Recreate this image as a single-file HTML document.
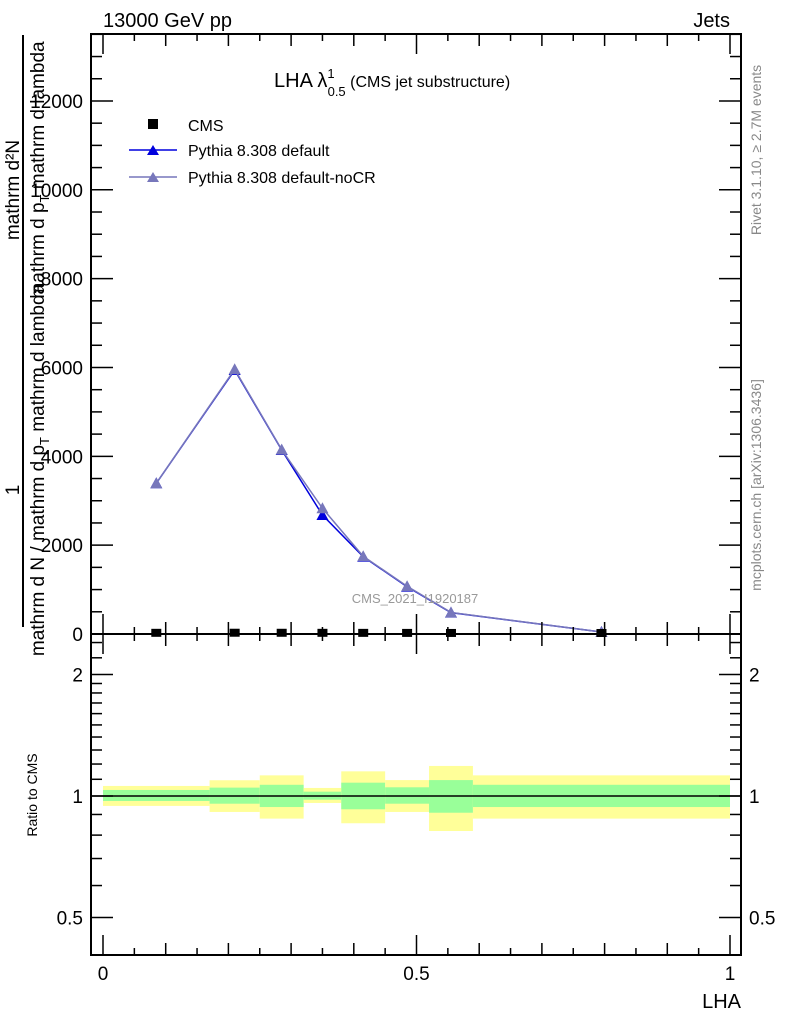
<!DOCTYPE html>
<html><head><meta charset="utf-8"><style>
body{margin:0;background:#fff}
svg{display:block;font-family:"Liberation Sans",sans-serif}
</style></head><body>
<svg id="c" width="786" height="1024" viewBox="0 0 786 1024" xmlns="http://www.w3.org/2000/svg">
<g id="bands"></g>
<g id="marks"></g>
<g id="axes" stroke="#000" fill="none" stroke-width="2"></g>
<g id="txt" font-size="19"></g>
<text x="103" y="27" font-size="20">13000 GeV pp</text>
<text x="730" y="27" font-size="20" text-anchor="end">Jets</text>
<text x="274" y="87" font-size="20">LHA λ<tspan font-size="13" dy="-9">1</tspan><tspan font-size="13" dx="-7" dy="18">0.5</tspan><tspan font-size="16" dy="-9"> (CMS jet substructure)</tspan></text>
<text x="415" y="603" font-size="13" fill="#999" text-anchor="middle">CMS_2021_I1920187</text>
<text transform="translate(761,150) rotate(-90)" font-size="14" fill="#888" text-anchor="middle">Rivet 3.1.10, ≥ 2.7M events</text>
<text transform="translate(761,485) rotate(-90)" font-size="14" fill="#888" text-anchor="middle">mcplots.cern.ch [arXiv:1306.3436]</text>
<g>
<rect x="148" y="119" width="10" height="10" fill="#000"/>
<text x="188" y="131" font-size="16">CMS</text>
<line x1="129" y1="150" x2="177" y2="150" stroke="#0000dd" stroke-width="1.5"/>
<path d="M147,155 L153,145 L159,155 Z" fill="#0000dd"/>
<text x="188" y="156" font-size="16">Pythia 8.308 default</text>
<line x1="129" y1="177" x2="177" y2="177" stroke="#7777bb" stroke-width="1.5"/>
<path d="M147,182 L153,172 L159,182 Z" fill="#7777bb"/>
<text x="188" y="183" font-size="16">Pythia 8.308 default-noCR</text>
</g>
<g font-size="19">
<line x1="23" y1="35" x2="23" y2="627" stroke="#000" stroke-width="2"/>
<text transform="translate(19,190) rotate(-90)" text-anchor="middle">mathrm d²N</text>
<text transform="translate(19,490) rotate(-90)" text-anchor="middle">1</text>
<text transform="translate(44,170) rotate(-90)" text-anchor="middle">mathrm d p<tspan font-size="13" dy="5">T</tspan><tspan dy="-5"> mathrm d lambda</tspan></text>
<text transform="translate(44,470) rotate(-90)" text-anchor="middle">mathrm d N / mathrm d p<tspan font-size="13" dy="5">T</tspan><tspan dy="-5"> mathrm d lambda</tspan></text>
</g>
<text transform="translate(37,795) rotate(-90)" font-size="14" text-anchor="middle">Ratio to CMS</text>
<text x="741" y="1008" font-size="20" text-anchor="end">LHA</text>
</svg>
<script>
const xCenters=[0.085,0.21,0.285,0.35,0.415,0.485,0.555,0.795];
const binEdges=[0,0.17,0.25,0.32,0.38,0.45,0.52,0.59,1.0];
const cmsValues=[4,6,5,4,3,2,1,0.1];
const defaultValues=[3393,5943,4142,2679,1740,1065,480,45];
const noCRValues=[3393,5960,4150,2830,1750,1075,485,45];
const yellowLo=[0.945,0.913,0.879,0.961,0.856,0.913,0.819,0.879];
const yellowHi=[1.059,1.094,1.125,1.047,1.151,1.095,1.187,1.125];
const greenLo=[0.972,0.957,0.939,0.979,0.927,0.957,0.909,0.939];
const greenHi=[1.035,1.049,1.066,1.025,1.079,1.051,1.095,1.066];
const mainYTicks=[0,2000,4000,6000,8000,10000,12000];
const ratioTicks=[0.5,1,2];
const xTickLabels=[0,0.5,1];

const NS='http://www.w3.org/2000/svg';
const L=91,R=741,T=34,MB=634,RB=955;
const X=v=>103+v*627;
const Y=v=>634-v*0.04442;
const RY=r=>796-Math.log2(r)*121.5;
function mk(tag,parent,attrs){const e=document.createElementNS(NS,tag);for(const k in attrs)e.setAttribute(k,attrs[k]);document.getElementById(parent).appendChild(e);return e;}

for(let i=0;i<binEdges.length-1;i++){
  const x0=X(binEdges[i]),x1=X(binEdges[i+1]);
  const y=mk('rect','bands',{x:x0,y:RY(yellowHi[i]),width:x1-x0,height:RY(yellowLo[i])-RY(yellowHi[i]),fill:'#ffff99'});
  
  
  const g=mk('rect','bands',{x:x0,y:RY(greenHi[i]),width:x1-x0,height:RY(greenLo[i])-RY(greenHi[i]),fill:'#99ff99'});
  
  
}
const ref=mk('line','bands',{x1:L,x2:R,y1:RY(1),y2:RY(1),stroke:'#000','stroke-width':1.5});



function series(vals,color,name){
  const pts=xCenters.map((x,i)=>X(x)+','+Y(vals[i])).join(' ');
  const pl=mk('polyline','marks',{points:pts,fill:'none',stroke:color,'stroke-width':1.5});
  
  
  xCenters.forEach((x,i)=>{
    const cx=X(x),cy=Y(vals[i]);
    const t=mk('path','marks',{d:`M${cx-6},${cy+5} L${cx},${cy-6} L${cx+6},${cy+5} Z`,fill:color});
    
    
  });
}
series(defaultValues,'#0000dd','default');
series(noCRValues,'#7777bb','nocr');
xCenters.forEach((x,i)=>{
  const r=mk('rect','marks',{x:X(x)-5,y:Y(cmsValues[i])-5,width:10,height:8,fill:'#000'});
  
  
});

mk('rect','axes',{x:L,y:T,width:R-L,height:MB-T});
mk('rect','axes',{x:L,y:MB,width:R-L,height:RB-MB});
for(let k=0;k<=20;k++){
  const v=k*0.05,x=X(v);
  const len=(k%10==0)?20:(k%2==0?12:7);
  [[MB,-1],[T,1],[RB,-1],[MB,1]].forEach(([y0,d])=>{
    mk('line','axes',{x1:x,x2:x,y1:y0,y2:y0+d*len,'stroke-width':1.5});
  });
}
for(let v=0;v<=13500;v+=500){
  const y=Y(v),len=v%2000==0?22:11;
  mk('line','axes',{x1:L,x2:L+len,y1:y,y2:y,'stroke-width':1.5});
  mk('line','axes',{x1:R,x2:R-len,y1:y,y2:y,'stroke-width':1.5});
}
mainYTicks.forEach(v=>{
  const t=mk('text','txt',{x:83,y:Y(v)+7,'text-anchor':'end'});
  t.textContent=v;
  
  
});
const rMinor=[0.5,0.6,0.7,0.8,0.9,1,1.1,1.2,1.3,1.4,1.5,1.6,1.7,1.8,1.9,2,2.2,2.4];
rMinor.forEach(r=>{
  const y=RY(r),len=ratioTicks.includes(r)?22:11;
  mk('line','axes',{x1:L,x2:L+len,y1:y,y2:y,'stroke-width':1.5});
  mk('line','axes',{x1:R,x2:R-len,y1:y,y2:y,'stroke-width':1.5});
});
ratioTicks.forEach(r=>{
  const a=mk('text','txt',{x:83,y:RY(r)+7,'text-anchor':'end'});a.textContent=r;
  
  
  const b=mk('text','txt',{x:749,y:RY(r)+7});b.textContent=r;
  
  
});
xTickLabels.forEach(v=>{
  const t=mk('text','txt',{x:X(v),y:980,'text-anchor':'middle'});t.textContent=v;
  
  
});
</script>
</body></html>
